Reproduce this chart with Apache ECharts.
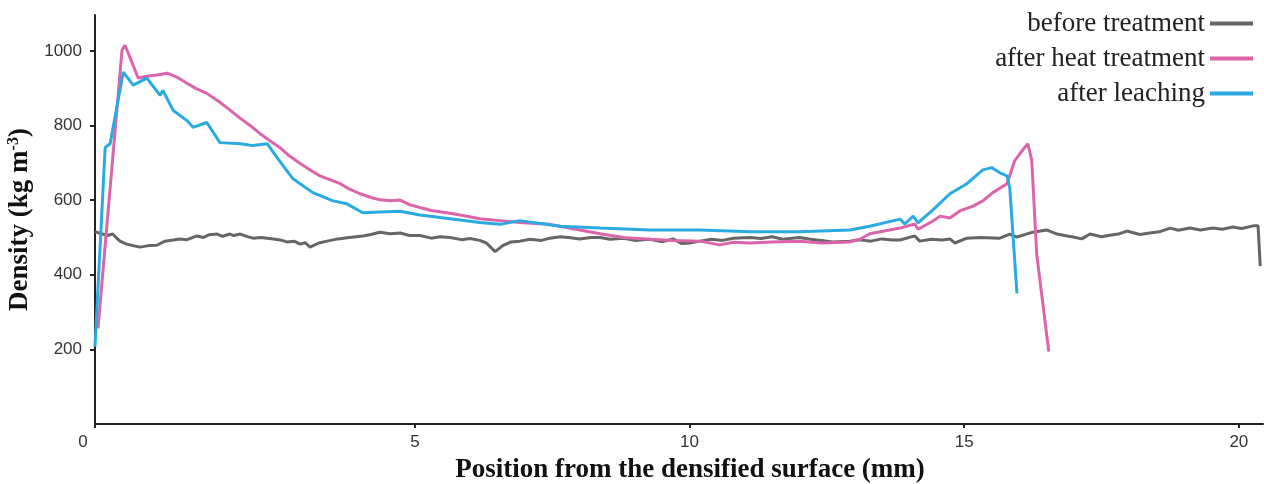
<!DOCTYPE html>
<html>
<head>
<meta charset="utf-8">
<script src="https://cdn.jsdelivr.net/npm/echarts@6/dist/echarts.min.js"></script>
<style>html,body{margin:0;padding:0;background:#fff}#c{width:1264px;height:484px}</style>
</head>
<body>
<div id="c"></div>
<script>
// Tick labels
const xTickValues = [-0.825, 5, 10, 15, 20];
const xTickLabels = ['0', '5', '10', '15', '20'];
const yTickValues = [200, 400, 600, 800, 1000];
const seriesNames = ['before treatment', 'after heat treatment', 'after leaching'];

// before treatment: position (mm, axis units) and density
const beforeX = [-0.825,-0.75,-0.6,-0.5,-0.43,-0.37,-0.25,-0.1,0.0,0.15,0.3,0.45,0.6,0.72,0.85,1.03,1.15,1.25,1.4,1.5,1.63,1.7,1.82,1.95,2.05,2.2,2.42,2.55,2.67,2.8,2.91,3.0,3.09,3.25,3.4,3.6,3.8,4.05,4.2,4.36,4.55,4.73,4.9,5.09,5.3,5.45,5.64,5.85,6.0,6.18,6.3,6.46,6.6,6.75,6.91,7.1,7.3,7.46,7.64,7.8,8.0,8.2,8.37,8.55,8.8,9.0,9.28,9.5,9.7,9.85,10.0,10.19,10.4,10.6,10.8,11.1,11.3,11.5,11.7,12.0,12.2,12.4,12.6,12.92,13.1,13.3,13.5,13.7,13.83,14.1,14.19,14.4,14.6,14.74,14.83,15.05,15.3,15.65,15.83,15.96,16.25,16.5,16.69,16.9,16.98,17.14,17.29,17.5,17.65,17.83,17.96,18.2,18.38,18.55,18.75,18.9,19.11,19.3,19.53,19.7,19.89,20.05,20.26,20.35,20.39];
const beforeY = [515,512,505,509,498,490,482,477,474,478,479,490,493,496,494,504,500,507,509,503,509,505,509,502,498,500,496,493,488,490,482,486,474,485,490,496,500,504,508,514,510,512,505,505,498,502,500,494,497,492,485,462,478,488,490,495,492,498,502,500,496,500,500,495,498,492,495,488,496,484,485,490,495,492,498,500,497,502,495,500,495,492,488,490,494,490,496,493,493,504,490,495,493,496,485,498,500,498,509,501,514,520,509,503,501,496,509,502,506,510,517,508,512,515,525,519,525,520,525,522,528,524,531,531,423];

// after heat treatment
const heatX = [-0.77,-0.333,-0.28,-0.19,-0.04,0.12,0.3,0.49,0.67,0.85,1.0,1.21,1.45,1.6,1.82,2.0,2.18,2.35,2.54,2.7,2.91,3.1,3.27,3.45,3.64,3.8,4.0,4.2,4.36,4.55,4.73,4.9,5.09,5.3,5.64,5.9,6.18,6.55,6.91,7.2,7.46,7.64,8.0,8.37,8.8,9.28,9.7,10.19,10.55,10.8,11.1,11.5,12.0,12.4,12.92,13.1,13.28,13.47,13.83,14.1,14.16,14.43,14.56,14.74,14.92,15.16,15.34,15.52,15.78,15.92,16.1,16.16,16.23,16.32,16.54];
const heatY = [256,1002,1015,983,927,932,935,940,929,913,900,886,862,845,819,800,778,760,741,720,698,680,665,655,644,630,617,607,601,598,600,588,580,572,565,558,550,545,540,537,535,530,520,510,500,495,492,490,480,487,485,488,490,485,488,495,510,515,525,536,522,544,557,552,571,584,598,620,644,706,741,751,706,455,194];

// after leaching
const leachX = [-0.825,-0.64,-0.55,-0.31,-0.13,0.12,0.36,0.41,0.6,0.85,0.96,1.21,1.45,1.82,2.05,2.31,2.49,2.78,3.14,3.51,3.76,4.05,4.36,4.73,5.09,5.64,6.18,6.55,6.91,7.64,8.37,9.28,10.19,11.1,12.0,12.92,13.28,13.83,13.92,14.07,14.16,14.43,14.74,15.05,15.34,15.5,15.65,15.78,15.83,15.96];
const leachY = [207,741,751,943,908,927,881,894,840,813,795,808,754,751,746,751,714,657,620,598,590,566,568,570,560,550,540,535,545,530,525,520,520,515,515,520,530,549,536,557,539,574,617,644,681,687,673,665,633,350];

const pairs = (xs, ys) => xs.map((x, i) => [x, ys[i]]);
const colors = ['#666666', '#DC64AA', '#29ABE2'];
const serif = '"Liberation Serif", "Times New Roman", serif';
const sans = '"Liberation Sans", Arial, sans-serif';

const chart = echarts.init(document.getElementById('c'), null, {renderer: 'canvas'});
chart.setOption({
  animation: false,
  backgroundColor: '#ffffff',
  color: colors,
  grid: {left: 95, right: 1, top: 15, bottom: 60, containLabel: false, outerBoundsMode: 'none'},
  legend: {
    orient: 'vertical', right: 6, top: 5, align: 'right',
    itemWidth: 43, itemHeight: 12, itemGap: 8,
    textStyle: {fontFamily: serif, fontSize: 27, color: '#222'},
    data: seriesNames.map(n => ({name: n, icon: 'path://M0,0 L43,0 L43,4 L0,4 Z'}))
  },
  xAxis: {
    type: 'value', min: -0.825, max: 20.44,
    name: 'Position from the densified surface (mm)',
    nameLocation: 'middle', nameGap: 33,
    nameTextStyle: {fontFamily: serif, fontWeight: 'bold', fontSize: 27, color: '#111', padding: [0, 0, 0, 22]},
    axisLine: {onZero: false, lineStyle: {color: '#222', width: 2}},
    axisTick: {show: true, length: 4, inside: false, customValues: xTickValues, lineStyle: {color: '#222', width: 2}},
    axisLabel: {
      customValues: xTickValues, margin: 10,
      fontFamily: sans, fontSize: 17, color: '#333',
      formatter: v => { const i = xTickValues.indexOf(v); const t = i >= 0 ? xTickLabels[i] : ''; return i === 0 ? '{z|' + t + '}' : t; },
      rich: {z: {padding: [0, 24, 0, 0], fontFamily: sans, fontSize: 17, color: '#333'}}
    },
    splitLine: {show: false}
  },
  yAxis: {
    type: 'value', min: 0, max: 1096,
    name: '{a|Density (kg m}{s|-3}{a|)}',
    nameLocation: 'middle', nameGap: 49, nameRotate: 90,
    nameTextStyle: {
      rich: {
        a: {fontFamily: serif, fontWeight: 'bold', fontSize: 27, color: '#111'},
        s: {fontFamily: serif, fontWeight: 'bold', fontSize: 16, color: '#111', verticalAlign: 'top', padding: [0, 0, 12, 0]}
      }
    },
    axisLine: {show: true, onZero: false, lineStyle: {color: '#222', width: 2}},
    axisTick: {show: true, length: 5, customValues: yTickValues, lineStyle: {color: '#222', width: 2}},
    axisLabel: {customValues: yTickValues, margin: 13, fontFamily: sans, fontSize: 17, color: '#333', formatter: v => String(v)},
    splitLine: {show: false}
  },
  series: [
    {name: seriesNames[0], type: 'line', data: pairs(beforeX, beforeY), symbol: 'none', lineStyle: {width: 3, color: colors[0]}, z: 2},
    {name: seriesNames[1], type: 'line', data: pairs(heatX, heatY), symbol: 'none', lineStyle: {width: 3, color: colors[1]}, z: 3},
    {name: seriesNames[2], type: 'line', data: pairs(leachX, leachY), symbol: 'none', lineStyle: {width: 3, color: colors[2]}, z: 4}
  ]
});
</script>
</body>
</html>
